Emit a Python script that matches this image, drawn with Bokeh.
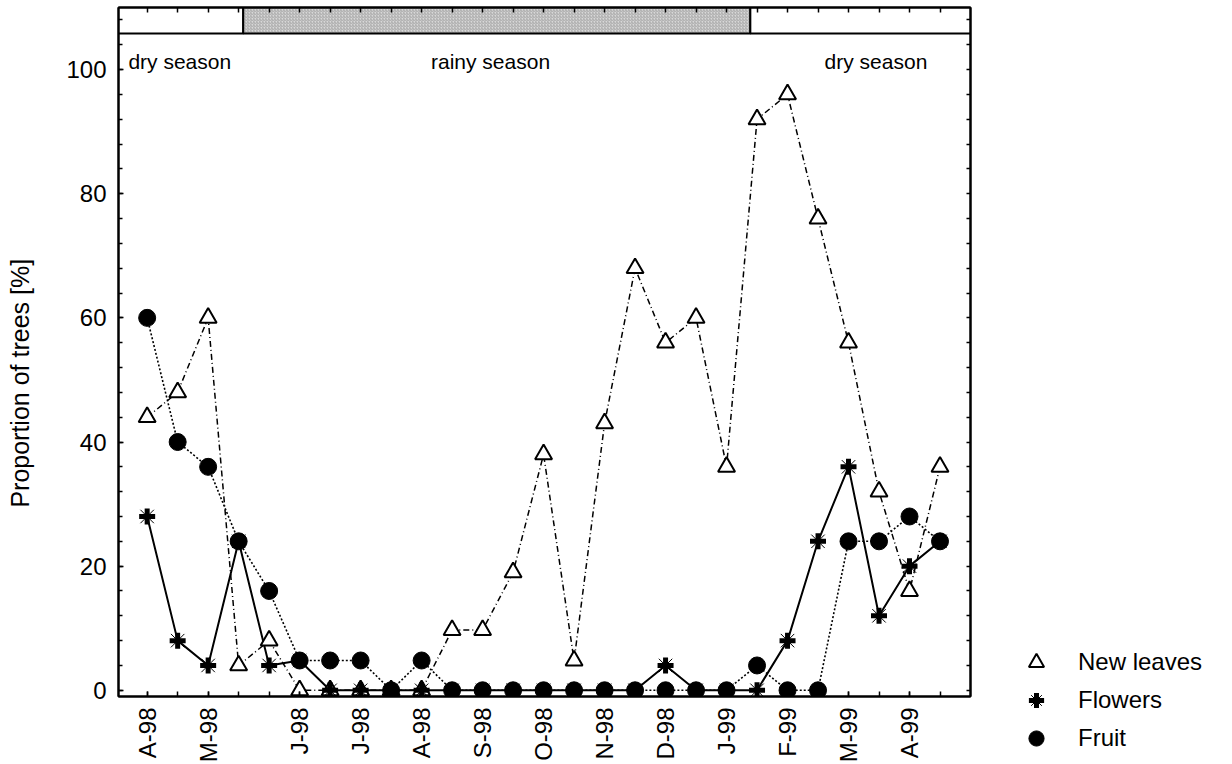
import math
from bokeh.plotting import figure
from bokeh.layouts import row, column
from bokeh.models import Range1d, FixedTicker, LinearAxis, Legend, LegendItem
from bokeh.core.properties import value
from bokeh.embed import file_html
from bokeh.resources import INLINE

# ---- data -------------------------------------------------------------
sample_idx = list(range(27))
label_positions = [0, 2, 5, 7, 9, 11, 13, 15, 17, 19, 21, 23, 25]
label_texts = ["A-98", "M-98", "J-98", "J-98", "A-98", "S-98", "O-98",
               "N-98", "D-98", "J-99", "F-99", "M-99", "A-99"]

new_leaves = [44, 48, 60, 4, 8, 0, 0, 0, 0, 0, 9.7, 9.7, 19, 38, 4.8, 43,
              68, 56, 60, 36, 92, 96, 76, 56, 32, 16, 36]
flowers = [28, 8, 4, 24, 4, 4.8, 0, 0, 0, 0, 0, 0, 0, 0, 0, 0,
           0, 4, 0, 0, 0, 8, 24, 36, 12, 20, 24]
fruit = [60, 40, 36, 24, 16, 4.8, 4.8, 4.8, 0, 4.8, 0, 0, 0, 0, 0, 0,
         0, 0, 0, 0, 4, 0, 0, 24, 24, 28, 24]

season_edges = [-0.94, 3.15, 19.78, 27.0]
season_names = ["dry season", "rainy season", "dry season"]
season_label_x = [1.07, 11.26, 23.9]
season_rainy = [False, True, False]

y_major = [0, 20, 40, 60, 80, 100]
y_minor = list(range(0, 109, 4))

series_names = ["New leaves", "Flowers", "Fruit"]
y_title = "Proportion of trees [%]"

FONT = "Liberation Sans"
H = 762

# ---- main figure ------------------------------------------------------
p = figure(frame_width=852, frame_height=689, height=H,
           x_range=Range1d(-0.94, 27.0), y_range=Range1d(-1, 110),
           output_backend="svg", toolbar_location=None,
           min_border_left=118, min_border_right=8,
           min_border_top=7, min_border_bottom=H - 7 - 689,
           background_fill_color="white", border_fill_color="white",
           outline_line_color="black", outline_line_width=2)
p.xgrid.visible = False
p.ygrid.visible = False

overrides = {pos: txt for pos, txt in zip(label_positions, label_texts)}
xa = p.xaxis[0]
xa.ticker = FixedTicker(ticks=label_positions, minor_ticks=sample_idx)
xa.major_label_overrides = overrides
xa.major_label_orientation = math.pi / 2
xa.major_label_text_font = FONT
xa.major_label_text_font_size = "24px"
xa.major_label_text_color = "black"
xa.major_label_standoff = 11
xa.major_tick_in = 5
xa.major_tick_out = 0
xa.minor_tick_in = 5
xa.minor_tick_out = 0
xa.axis_line_width = 2
xa.major_tick_line_width = 1.5
xa.minor_tick_line_width = 1.5

ya = p.yaxis[0]
ya.ticker = FixedTicker(ticks=y_major, minor_ticks=y_minor)
ya.major_label_text_font = FONT
ya.major_label_text_font_size = "24px"
ya.major_label_text_color = "black"
ya.major_label_standoff = 12
ya.major_tick_in = 5
ya.major_tick_out = 0
ya.minor_tick_in = 4
ya.minor_tick_out = 0
ya.axis_line_width = 2
ya.major_tick_line_width = 1.5
ya.minor_tick_line_width = 1.5
# trailing no-break spaces move the (centred) title lower along the axis
ya.axis_label = y_title + "\u00a0" * 9
ya.axis_label_text_font = FONT
ya.axis_label_text_font_size = "25px"
ya.axis_label_text_font_style = "normal"
ya.axis_label_text_color = "black"
ya.axis_label_standoff = 29

top = LinearAxis(ticker=FixedTicker(ticks=[], minor_ticks=sample_idx),
                 major_label_text_font_size="0px", major_label_standoff=0,
                 major_tick_in=0, major_tick_out=0, minor_tick_in=5, minor_tick_out=0,
                 axis_line_width=2, minor_tick_line_width=1.5)
p.add_layout(top, "above")
right = LinearAxis(ticker=FixedTicker(ticks=[], minor_ticks=y_minor),
                   major_label_text_font_size="0px", major_label_standoff=0,
                   major_tick_in=0, major_tick_out=0, minor_tick_in=4, minor_tick_out=0,
                   axis_line_width=2, minor_tick_line_width=1.5)
p.add_layout(right, "right")

# season band
band_bottom, band_top = 105.8, 110
for i in range(3):
    if season_rainy[i]:
        kw = dict(fill_color="#d8d8d8", hatch_pattern="/", hatch_color="#888888",
                  hatch_scale=3, hatch_weight=0.6)
    else:
        kw = dict(fill_color="white")
    p.quad(left=[season_edges[i]], right=[season_edges[i + 1]],
           bottom=[band_bottom], top=[band_top],
           line_color="black", line_width=2, **kw)

p.text(x=season_label_x, y=[101.3] * 3, text=season_names,
       text_align="center", text_baseline="alphabetic",
       text_font=value(FONT), text_font_size="21px", text_color="black")

# series lines
p.line(sample_idx, new_leaves, line_color="black", line_width=1.5, line_dash="6 3 1 3")
p.line(sample_idx, flowers, line_color="black", line_width=2)
p.line(sample_idx, fruit, line_color="black", line_width=1.6, line_dash="2 2")

tri_style = dict(marker="triangle", size=17, fill_color="white", line_color="black", line_width=2)
cross_style = dict(marker="cross", size=16, line_color="black", line_width=5)
x_style = dict(marker="x", size=19, line_color="black", line_width=1)
circ_style = dict(marker="circle", size=17, fill_color="black", line_color="black")

p.scatter(sample_idx, new_leaves, **tri_style)
p.scatter(sample_idx, flowers, **cross_style)
p.scatter(sample_idx, flowers, **x_style)
p.scatter(sample_idx, fruit, **circ_style)

# ---- legend panel (placeholder renderers sit outside the visible range) --
q = figure(width=245, height=H, x_range=Range1d(0, 1), y_range=Range1d(0, 1),
           output_backend="svg", toolbar_location=None,
           min_border_left=0, min_border_right=0, min_border_top=0, min_border_bottom=0,
           outline_line_color=None, background_fill_color="white", border_fill_color="white")
q.axis.visible = False
q.grid.visible = False
hidden_x, hidden_y = [-5], [-5]
e_tri = q.scatter(hidden_x, hidden_y, **tri_style)
e_cross = q.scatter(hidden_x, hidden_y, **cross_style)
e_x = q.scatter(hidden_x, hidden_y, **x_style)
e_circ = q.scatter(hidden_x, hidden_y, **circ_style)

legend = Legend(items=[LegendItem(label=series_names[0], renderers=[e_tri]),
                       LegendItem(label=series_names[1], renderers=[e_cross, e_x]),
                       LegendItem(label=series_names[2], renderers=[e_circ])],
                location=(38, 5), orientation="vertical",
                border_line_color=None, background_fill_alpha=0,
                padding=0, margin=0, spacing=0,
                glyph_width=40, glyph_height=38, label_height=38,
                label_standoff=22, label_text_font=FONT,
                label_text_font_size="24px", label_text_color="black",
                label_text_baseline="middle")
q.add_layout(legend)

layout = row(p, column(q))
open("out.html", "w").write(file_html(layout, INLINE))
